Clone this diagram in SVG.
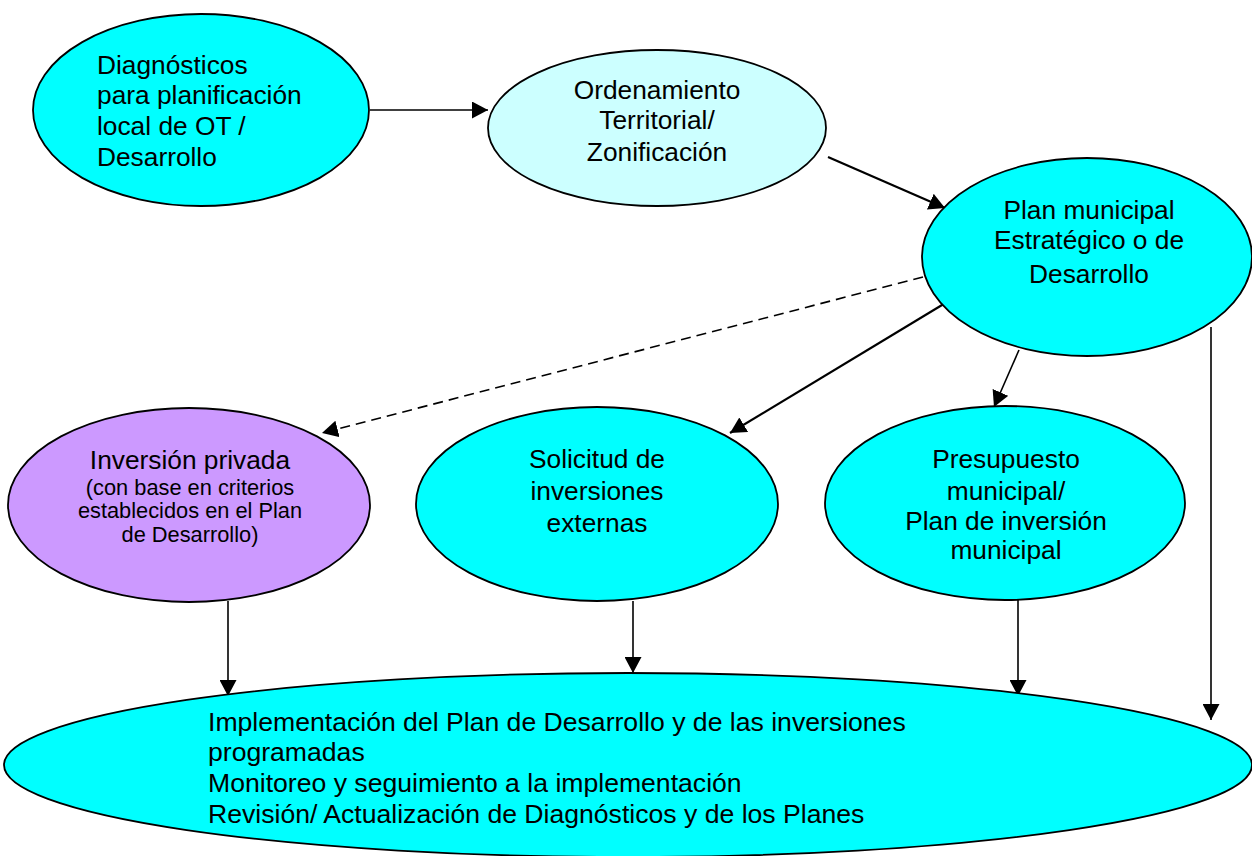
<svg xmlns="http://www.w3.org/2000/svg" width="1252" height="856" viewBox="0 0 1252 856">
<style>
.node{stroke:#000;stroke-width:1.8}
.c{fill:#00FFFF}
.lc{fill:#CCFFFF}
.p{fill:#CC99FF}
text{font-family:"Liberation Sans",Arial,sans-serif;font-size:26.3px;fill:#000}
.m{text-anchor:middle}
.s{font-size:21.8px}
.b{font-size:26.6px}
.e{fill:none;stroke:#000;stroke-width:1.6;marker-end:url(#ah)}
.t{stroke-width:2.2}
.d{stroke-dasharray:10 6}
</style>
<defs>
<marker id="ah" markerUnits="userSpaceOnUse" markerWidth="17" markerHeight="17" refX="16" refY="8.5" orient="auto" viewBox="0 0 17 17">
<path d="M0,0 L16,8.5 L0,17 Z" fill="#000"/>
</marker>
</defs>
<rect width="1252" height="856" fill="#fff"/>
<g id="connectors">
<line class="e" x1="370" y1="110" x2="488" y2="110"/>
<line class="e t" x1="828" y1="157" x2="945" y2="208"/>
<line class="e d" x1="923" y1="277" x2="322" y2="433"/>
<line class="e t" x1="947" y1="302" x2="730" y2="433"/>
<line class="e" x1="1019" y1="350" x2="994" y2="407"/>
<line class="e" x1="1211" y1="327" x2="1211" y2="720"/>
<line class="e" x1="228" y1="601" x2="228" y2="696"/>
<line class="e" x1="633" y1="601" x2="633" y2="673"/>
<line class="e" x1="1018" y1="600" x2="1018" y2="696"/>
</g>
<g id="diagnosticos">
<ellipse class="node c" cx="201" cy="110" rx="168" ry="96"/>
<text x="97" y="74">Diagnósticos</text>
<text x="97" y="104">para planificación</text>
<text x="97" y="135">local de OT /</text>
<text x="97" y="166">Desarrollo</text>
</g>
<g id="ordenamiento">
<ellipse class="node lc" cx="657" cy="128" rx="169" ry="78"/>
<text class="m" x="657" y="99">Ordenamiento</text>
<text class="m" x="657" y="129">Territorial/</text>
<text class="m" x="657" y="161">Zonificación</text>
</g>
<g id="plan">
<ellipse class="node c" cx="1087" cy="257" rx="165" ry="99"/>
<text class="m" x="1089" y="219">Plan municipal</text>
<text class="m" x="1089" y="249">Estratégico o de</text>
<text class="m" x="1089" y="283">Desarrollo</text>
</g>
<g id="inversion-privada">
<ellipse class="node p" cx="189" cy="505" rx="181" ry="97"/>
<text class="m" x="190" y="469">Inversión privada</text>
<text class="m s" x="190" y="495">(con base en criterios</text>
<text class="m s" x="190" y="518">establecidos en el Plan</text>
<text class="m s" x="190" y="542">de Desarrollo)</text>
</g>
<g id="solicitud">
<ellipse class="node c" cx="597" cy="504" rx="181" ry="97"/>
<text class="m" x="597" y="468">Solicitud de</text>
<text class="m" x="597" y="500">inversiones</text>
<text class="m" x="597" y="532">externas</text>
</g>
<g id="presupuesto">
<ellipse class="node c" cx="1005" cy="503" rx="180" ry="97"/>
<text class="m" x="1006" y="468">Presupuesto</text>
<text class="m" x="1006" y="500">municipal/</text>
<text class="m" x="1006" y="530">Plan de inversión</text>
<text class="m" x="1006" y="559">municipal</text>
</g>
<g id="implementacion">
<ellipse class="node c" cx="628" cy="765" rx="624" ry="92"/>
<text class="b" x="208" y="731">Implementación del Plan de Desarrollo y de las inversiones</text>
<text class="b" x="208" y="761">programadas</text>
<text class="b" x="208" y="792">Monitoreo y seguimiento a la implementación</text>
<text class="b" x="208" y="823">Revisión/ Actualización de Diagnósticos y de los Planes</text>
</g>
</svg>
